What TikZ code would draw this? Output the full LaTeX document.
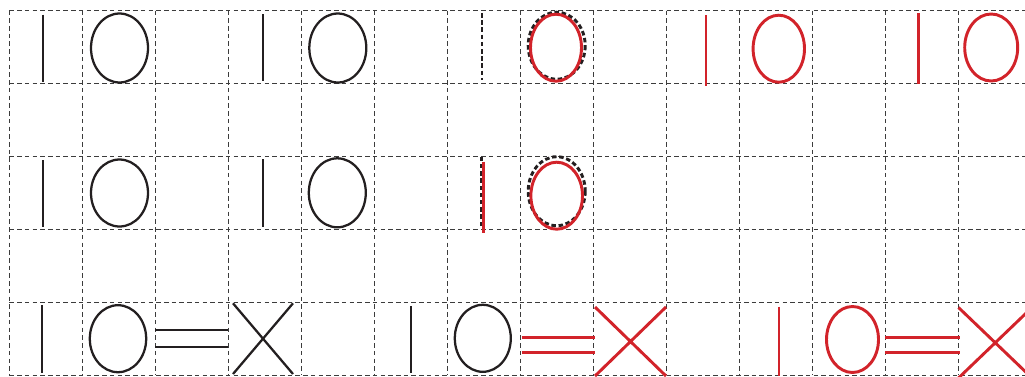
\documentclass[tikz,border=0pt]{standalone}
\usepackage{tikz}
\definecolor{inkc}{HTML}{231F20}
\definecolor{redc}{HTML}{D2232A}
\definecolor{gridc}{HTML}{3C3C3C}
\tikzset{
  gridln/.style={draw=gridc,line width=0.7pt,dash pattern=on 3.4pt off 2.4pt},
  pen/.style={draw=inkc,line width=1.7pt},
  rpen/.style={draw=redc,line width=2.2pt},
  ghost/.style={draw=inkc,line width=2.2pt,dash pattern=on 3.4pt off 2pt},
}
\newcommand{\barmark}[4][pen]{\draw[#1] (#2,#3) -- (#2,#4);}
\newcommand{\ringmark}[5][pen]{\draw[#1] (#2,#3) ellipse [x radius=#4, y radius=#5];}
\newcommand{\eqmark}[5][pen]{\draw[#1] (#2,#4) -- (#3,#4) (#2,#5) -- (#3,#5);}
\newcommand{\xmark}[5][pen]{\draw[#1] (#2,#4) -- (#3,#5) (#3,#4) -- (#2,#5);}

\begin{document}
\begin{tikzpicture}[x=0.75pt,y=-0.75pt]
  \useasboundingbox (0,0) rectangle (1025,376);
  \clip (0,0) rectangle (1025,376);
  \foreach \c in {0,...,14}
    \draw[gridln] ({9.3+73*\c},10.5) -- ({9.3+73*\c},375.3);
  \foreach \r in {0,...,5}
    \draw[gridln] (9.3,{10.5+73*\r}) -- (1025,{10.5+73*\r});
  % first line
  \barmark{43.3}{14.5}{82}
  \ringmark{119.5}{48}{28.5}{34.5}
  \barmark{263.3}{14}{81}
  \ringmark{337.8}{48}{28.5}{34.5}
  \barmark[ghost]{482}{13}{80}
  \ringmark[ghost]{556.7}{45.7}{28.5}{33.5}
  \ringmark[rpen]{556}{47.7}{25.5}{33.5}
  \barmark[rpen]{706}{15}{86}
  \ringmark[rpen]{778.8}{48.7}{25.7}{33.5}
  \barmark[rpen]{918.3}{13.3}{84.3}
  \ringmark[rpen]{991.2}{47.5}{26.5}{33.5}
  % second line
  \barmark{43.3}{160}{227.3}
  \ringmark{119.5}{193}{28.5}{33.5}
  \barmark{263.3}{159}{226.7}
  \ringmark{337.3}{192.8}{28.5}{34.5}
  \barmark[ghost]{481.8}{156.7}{228}
  \barmark[rpen]{483.3}{161.7}{233}
  \ringmark[ghost]{556.7}{191.2}{28.5}{34.5}
  \ringmark[rpen]{556.7}{195.7}{25.8}{33.5}
  % third line
  \barmark{41.7}{305}{373}
  \ringmark{118}{338.7}{28.2}{33.5}
  \eqmark{155}{228}{330}{346.7}
  \xmark{233}{293}{303.3}{374}
  \barmark{410.7}{306}{372.7}
  \ringmark{482.8}{338.3}{28}{33.5}
  \eqmark[rpen]{521.7}{595}{337.3}{352.7}
  \xmark[rpen]{595}{666}{307}{376}
  \barmark[rpen]{779}{306.7}{376}
  \ringmark[rpen]{852.5}{339.5}{26}{33}
  \eqmark[rpen]{885}{960}{337.3}{352.7}
  \xmark[rpen]{958.5}{1032}{307.5}{378}
\end{tikzpicture}
\end{document}
